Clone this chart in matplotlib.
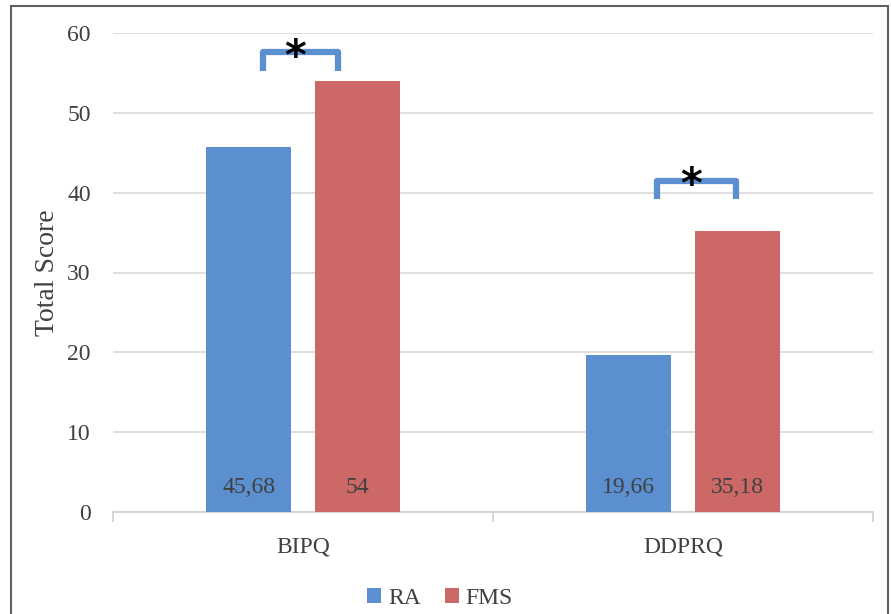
import numpy as np
import matplotlib.pyplot as plt
from matplotlib.patches import Rectangle

categories = ['BIPQ', 'DDPRQ']
ra = [45.68, 19.66]
fms = [54, 35.18]
ra_labels = ['45,68', '19,66']
fms_labels = ['54', '35,18']
series = ['RA', 'FMS']
yticks = [0, 10, 20, 30, 40, 50, 60]

blue = '#5b8fcf'
red = '#cc6966'
txt = '#404040'

plt.rcParams['font.family'] = ['Liberation Serif', 'DejaVu Serif']

fig = plt.figure(figsize=(8.91, 6.14), dpi=100)
ax = fig.add_axes([113/891, 1-512/614, 760/891, 479/614])

x = np.arange(len(categories))
w = 0.224
off = 0.143
b1 = ax.bar(x - off, ra, w, color=blue, label=series[0], zorder=3)
b2 = ax.bar(x + off, fms, w, color=red, label=series[1], zorder=3)

for i in range(len(categories)):
    ax.text(x[i] - off, 3.1, ra_labels[i], ha='center', va='center', fontsize=17, color=txt, zorder=4)
    ax.text(x[i] + off, 3.1, fms_labels[i], ha='center', va='center', fontsize=17, color=txt, zorder=4)

# significance brackets
brackets = [(-0.105, 0.092, 55.3, 57.6), (0.932, 1.139, 39.2, 41.5)]
for x0, x1, y0, y1 in brackets:
    ax.plot([x0, x0, x1, x1], [y0, y1, y1, y0], color=blue, lw=4.5,
            solid_joinstyle='round', solid_capstyle='butt', zorder=5, clip_on=False)
    ax.text((x0 + x1) / 2 - 0.015, y1 - 0.7, '*', ha='center', va='center',
            fontsize=30, color='black', zorder=6, clip_on=False, family='DejaVu Sans',
            fontweight='bold')

ax.set_xlim(-0.5, 1.5)
ax.set_ylim(0, 60)
ax.set_yticks(yticks)
ax.yaxis.grid(True, color='#d9d9d9', lw=1.2, zorder=0)
ax.set_axisbelow(True)
for s in ['left', 'right', 'top']:
    ax.spines[s].set_visible(False)
ax.spines['bottom'].set_color('#d0d0d0')
ax.spines['bottom'].set_linewidth(1.2)
ax.tick_params(axis='y', length=0, labelsize=17, labelcolor=txt, pad=16)
ax.set_xticks([-0.5, 0.5, 1.5])
ax.set_xticklabels([])
ax.set_xticks(x, minor=True)
ax.set_xticklabels(categories, minor=True)
ax.tick_params(axis='x', which='major', length=7, color='#d0d0d0', width=1.2)
ax.tick_params(axis='x', which='minor', length=0, labelsize=17, labelcolor=txt, pad=18)
ax.set_ylabel('Total Score', fontsize=20, color=txt, labelpad=5)

fig.legend(handles=[b1, b2], labels=series, loc='center', bbox_to_anchor=(440/891, 1-598/614),
           ncol=2, frameon=False, fontsize=17, handlelength=0.6, handleheight=0.6,
           handletextpad=0.3, columnspacing=1.0, labelcolor=txt)

fig.patches.append(Rectangle((11/891, -0.05), 877/891, 1.05 - 6/614, transform=fig.transFigure,
                             fill=False, edgecolor='#606060', lw=1.5))

fig.savefig('out.png', dpi=100)
